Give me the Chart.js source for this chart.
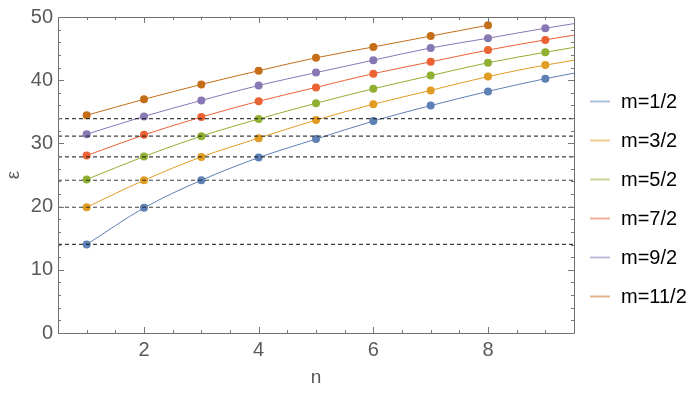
<!DOCTYPE html>
<html>
<head>
<meta charset="utf-8">
<script src="https://cdn.jsdelivr.net/npm/chart.js@4/dist/chart.umd.min.js"></script>
<style>
  html, body { margin: 0; padding: 0; background: #fff; }
  #wrap { width: 700px; height: 394px; }
</style>
</head>
<body>
<div id="wrap"><canvas id="c" width="700" height="394"></canvas></div>
<script>
// ---- data ----
const nValues = [1, 2, 3, 4, 5, 6, 7, 8, 9, 10];
const seriesNames = ["m=1/2", "m=3/2", "m=5/2", "m=7/2", "m=9/2", "m=11/2"];
const m1_2  = [14.0, 19.8, 24.17, 27.76, 30.68, 33.54, 35.98, 38.23, 40.24, 41.95];
const m3_2  = [19.9, 24.17, 27.86, 30.83, 33.7, 36.2, 38.39, 40.58, 42.39, 43.9];
const m5_2  = [24.3, 27.92, 31.15, 33.86, 36.35, 38.64, 40.73, 42.76, 44.42, 45.95];
const m7_2  = [28.07, 31.35, 34.17, 36.67, 38.86, 41.04, 42.9, 44.77, 46.38, 47.9];
const m9_2  = [31.45, 34.27, 36.8, 39.17, 41.2, 43.17, 45.1, 46.64, 48.23, 49.65];
const m11_2 = [34.45, 36.98, 39.33, 41.5, 43.54, 45.26, 46.98, 48.7];
const dashLevels = [14.03, 19.9, 24.17, 27.86, 31.15, 33.93];
const yTickLabels = [0, 10, 20, 30, 40, 50];
const xTickLabels = [2, 4, 6, 8];

const colors = ["#5E81B5", "#E19C24", "#8FB032", "#EB6235", "#8778B3", "#C56E1A"];
const legendColors = ["rgba(94,129,181,0.5)", "rgba(225,156,36,0.5)", "rgba(143,176,50,0.5)",
                      "rgba(235,98,53,0.5)", "rgba(135,120,179,0.5)", "rgba(197,110,26,0.5)"];
const X_MIN = 0.5, X_MAX = 9.5;
const FONT = '"Liberation Sans", Arial, sans-serif';

const allSeries = [m1_2, m3_2, m5_2, m7_2, m9_2, m11_2];

const datasets = [];
dashLevels.forEach(v => {
  datasets.push({
    data: [{x: X_MIN, y: v}, {x: X_MAX, y: v}],
    borderColor: "rgba(30,30,30,0.85)",
    borderWidth: 1.2,
    borderDash: [4, 3],
    pointRadius: 0,
    order: 0
  });
});
allSeries.forEach((arr, i) => {
  datasets.push({
    label: seriesNames[i],
    data: arr.map((v, k) => ({x: nValues[k], y: v})),
    borderColor: colors[i],
    backgroundColor: colors[i],
    borderWidth: 1,
    pointRadius: ctx => (ctx.raw && ctx.raw.x > X_MAX) ? 0 : 4,
    pointBorderWidth: 0,
    cubicInterpolationMode: 'monotone',
    order: 1
  });
});

const framePlugin = {
  id: 'frame',
  afterDatasetsDraw(chart) {
    const {ctx, chartArea: a, scales} = chart;
    const xs = scales.x, ys = scales.y;
    ctx.save();
    ctx.strokeStyle = "#6e6e6e";
    ctx.lineWidth = 1;
    ctx.beginPath();
    ctx.rect(Math.round(a.left) + 0.5, Math.round(a.top) + 0.5,
             Math.round(a.right - a.left), Math.round(a.bottom - a.top));
    ctx.stroke();
    ctx.strokeStyle = "#777";
    ctx.beginPath();
    for (let v = 1; v <= 9.001; v += 0.5) {
      const px = Math.round(xs.getPixelForValue(v)) + 0.5;
      const len = (Math.abs(v % 2) < 1e-6) ? 6 : 3;
      ctx.moveTo(px, a.bottom); ctx.lineTo(px, a.bottom - len);
      ctx.moveTo(px, a.top); ctx.lineTo(px, a.top + len);
    }
    for (let v = 0; v <= 50.001; v += 2) {
      const py = Math.round(ys.getPixelForValue(v)) + 0.5;
      const len = (Math.abs(v % 10) < 1e-6) ? 6 : 3;
      ctx.moveTo(a.left, py); ctx.lineTo(a.left + len, py);
      ctx.moveTo(a.right, py); ctx.lineTo(a.right - len, py);
    }
    ctx.stroke();
    ctx.restore();
  },
  afterDraw(chart) {
    const {ctx, chartArea: a} = chart;
    ctx.save();
    ctx.font = '20px ' + FONT;
    ctx.textBaseline = 'middle';
    ctx.textAlign = 'left';
    seriesNames.forEach((name, i) => {
      const y = 101.5 + i * 39;
      const x0 = a.right + 16;
      ctx.strokeStyle = legendColors[i];
      ctx.lineWidth = 2;
      ctx.beginPath();
      ctx.moveTo(x0, y); ctx.lineTo(x0 + 20, y);
      ctx.stroke();
      ctx.fillStyle = "#000";
      ctx.fillText(name, x0 + 31, y + 1);
    });
    ctx.restore();
  }
};

new Chart(document.getElementById('c'), {
  type: 'line',
  data: { datasets },
  options: {
    responsive: false,
    animation: false,
    events: [],
    layout: { padding: { top: 13, right: 126, left: 0, bottom: 0 } },
    plugins: { legend: { display: false }, tooltip: { enabled: false } },
    scales: {
      x: {
        type: 'linear',
        min: X_MIN, max: X_MAX,
        grid: { display: false, drawTicks: false },
        border: { display: false },
        afterBuildTicks: s => { s.ticks = xTickLabels.map(v => ({value: v})); },
        afterFit: s => { s.height = 61; },
        ticks: {
          color: "#5a5a5a",
          padding: 5,
          maxRotation: 0,
          font: { family: FONT, size: 20 }
        },
        title: {
          display: true, text: 'n', color: "#5a5a5a",
          padding: { top: 0, bottom: 5 },
          font: { family: FONT, size: 19 }
        }
      },
      y: {
        min: 0, max: 50,
        grid: { display: false, drawTicks: false },
        border: { display: false },
        afterBuildTicks: s => { s.ticks = yTickLabels.map(v => ({value: v})); },
        afterFit: s => { s.width = 58; },
        ticks: {
          color: "#5a5a5a",
          padding: 5,
          font: { family: FONT, size: 20 }
        },
        title: {
          display: true, text: 'ε', color: "#5a5a5a",
          padding: { top: 2, bottom: 0 },
          font: { family: FONT, size: 19 }
        }
      }
    }
  },
  plugins: [framePlugin]
});
</script>
</body>
</html>
